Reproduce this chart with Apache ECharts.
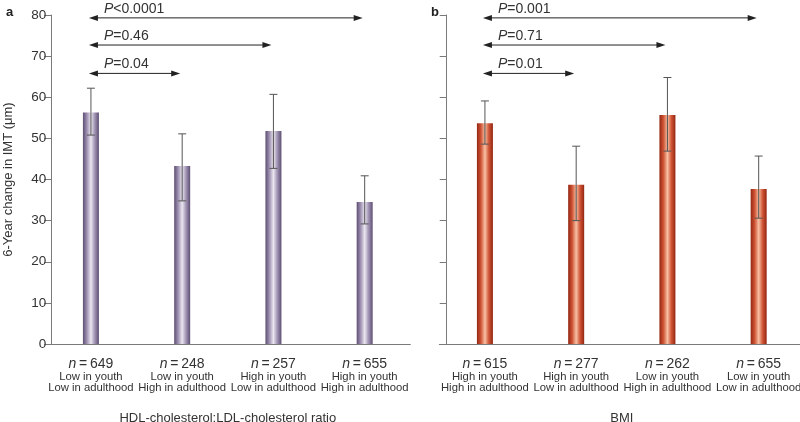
<!DOCTYPE html>
<html><head><meta charset="utf-8">
<script src="https://cdn.jsdelivr.net/npm/echarts@6/dist/echarts.min.js"></script>
<style>html,body{margin:0;padding:0;background:#fff}#c{width:800px;height:422px}</style>
</head><body><div id="c"></div>
<script>
// ---- data ----
const leftN = ['649', '248', '257', '655'];
const leftGroups = ['Low in youth\nLow in adulthood', 'Low in youth\nHigh in adulthood', 'High in youth\nLow in adulthood', 'High in youth\nHigh in adulthood'];
const leftValues = [56.3, 43.3, 51.8, 34.5];
const leftLow = [50.8, 34.8, 42.7, 29.2];
const leftHigh = [62.2, 51.1, 60.7, 40.9];
const leftTitle = 'HDL-cholesterol:LDL-cholesterol ratio';
const leftComparisons = [[0, 3, 79.3, '<0.0001'], [0, 2, 72.7, '=0.46'], [0, 1, 65.8, '=0.04']];

const rightN = ['615', '277', '262', '655'];
const rightGroups = ['High in youth\nHigh in adulthood', 'High in youth\nLow in adulthood', 'Low in youth\nHigh in adulthood', 'Low in youth\nLow in adulthood'];
const rightValues = [53.7, 38.7, 55.7, 37.7];
const rightLow = [48.6, 30.0, 46.9, 30.6];
const rightHigh = [59.1, 48.1, 64.8, 45.7];
const rightTitle = 'BMI';
const rightComparisons = [[0, 3, 79.3, '=0.001'], [0, 2, 72.7, '=0.71'], [0, 1, 65.8, '=0.01']];

const yTicks = {min: 0, max: 80, interval: 10};
const yName = '6-Year change in IMT (\u03bcm)';

// ---- build ----
const FONT = 'Liberation Sans';
const TXT = '#333';
const AX = '#7a7a7a';
const cats = (ns, gs) => ns.map((n, i) => '{i|n}{b|\u2009=\u2009' + n + '}\n' + gs[i]);

function grad(edge, mid, center) {
  return new echarts.graphic.LinearGradient(0, 0, 1, 0, [
    {offset: 0, color: edge}, {offset: 0.25, color: mid}, {offset: 0.5, color: center},
    {offset: 0.75, color: mid}, {offset: 1, color: edge}]);
}

function errSeries(idx, lows, highs) {
  return {
    type: 'custom', xAxisIndex: idx, yAxisIndex: idx, z: 5,
    data: lows.map((l, i) => [i, l, highs[i]]),
    renderItem: function (params, api) {
      const lo = api.coord([api.value(0), api.value(1)]);
      const hi = api.coord([api.value(0), api.value(2)]);
      const w = 4;
      const st = {stroke: '#555', lineWidth: 1};
      return {type: 'group', children: [
        {type: 'line', shape: {x1: lo[0], y1: lo[1], x2: hi[0], y2: hi[1]}, style: st},
        {type: 'line', shape: {x1: lo[0] - w, y1: lo[1], x2: lo[0] + w, y2: lo[1]}, style: st},
        {type: 'line', shape: {x1: hi[0] - w, y1: hi[1], x2: hi[0] + w, y2: hi[1]}, style: st}
      ]};
    }
  };
}

function arrowSeries(idx, comps) {
  return {
    type: 'custom', xAxisIndex: idx, yAxisIndex: idx, z: 6,
    data: comps.map(c => [c[0], c[1], c[2]]),
    renderItem: function (params, api) {
      const a = api.coord([api.value(0), api.value(2)]);
      const b = api.coord([api.value(1), api.value(2)]);
      const x1 = a[0] - 2, x2 = b[0] - 2, y = a[1];
      const hl = 9, hh = 3;
      const col = '#222';
      return {type: 'group', children: [
        {type: 'line', shape: {x1: x1 + 4, y1: y, x2: x2 - 4, y2: y}, style: {stroke: col, lineWidth: 1}},
        {type: 'polygon', shape: {points: [[x1, y], [x1 + hl, y - hh], [x1 + hl, y + hh]]}, style: {fill: col}},
        {type: 'polygon', shape: {points: [[x2, y], [x2 - hl, y - hh], [x2 - hl, y + hh]]}, style: {fill: col}},
        {type: 'text', x: x1 + 15, y: y - 9, style: {
          text: '{i|P}' + comps[params.dataIndex][3],
          fill: TXT, fontFamily: FONT, fontSize: 14,
          verticalAlign: 'middle', align: 'left',
          rich: {i: {fontStyle: 'italic', fontFamily: FONT, fontSize: 14, fill: TXT}}
        }}
      ]};
    }
  };
}

function xAxisDef(idx, data, title) {
  return {
    type: 'category', gridIndex: idx, data: data,
    axisLine: {lineStyle: {color: AX}}, axisTick: {alignWithLabel: true, length: 7, lineStyle: {color: AX}},
    axisLabel: {color: TXT, fontFamily: FONT, fontSize: 11.3, lineHeight: 11.5, margin: 14, interval: 0,
      rich: {
        i: {fontStyle: 'italic', fontFamily: FONT, fontSize: 14, lineHeight: 13, color: TXT},
        b: {fontFamily: FONT, fontSize: 14, lineHeight: 13, color: TXT}
      }},
    name: title, nameLocation: 'middle', nameGap: 68,
    nameTextStyle: {color: TXT, fontFamily: FONT, fontSize: 13}
  };
}

function yAxisDef(idx, off, showLabels) {
  const d = {
    type: 'value', gridIndex: idx, min: yTicks.min, max: yTicks.max, interval: yTicks.interval, offset: off,
    axisLine: {show: true, lineStyle: {color: AX}}, axisTick: {show: true, length: 7, lineStyle: {color: AX}},
    splitLine: {show: false},
    axisLabel: {show: showLabels, color: TXT, fontFamily: FONT, fontSize: 13.5, margin: 5}
  };
  if (showLabels) {
    d.name = yName; d.nameLocation = 'middle'; d.nameGap = 36;
    d.nameTextStyle = {color: TXT, fontFamily: FONT, fontSize: 13};
  }
  return d;
}

const chart = echarts.init(document.getElementById('c'), null, {renderer: 'canvas'});
chart.setOption({
  animation: false,
  backgroundColor: '#fff',
  title: [
    {text: 'a', left: 1, top: 1, textStyle: {fontFamily: FONT, fontSize: 13, fontWeight: 'bold', color: '#222'}},
    {text: 'b', left: 426, top: 1, textStyle: {fontFamily: FONT, fontSize: 13, fontWeight: 'bold', color: '#222'}}
  ],
  grid: [
    {left: 45.3, top: 15, width: 365, height: 329, containLabel: false, outerBoundsMode: 'none'},
    {left: 439.3, top: 15, width: 365, height: 329, containLabel: false, outerBoundsMode: 'none'}
  ],
  xAxis: [xAxisDef(0, cats(leftN, leftGroups), leftTitle), xAxisDef(1, cats(rightN, rightGroups), rightTitle)],
  yAxis: [yAxisDef(0, -6, true), yAxisDef(1, -7.4, false)],
  series: [
    {type: 'bar', xAxisIndex: 0, yAxisIndex: 0, data: leftValues, barWidth: 16,
      itemStyle: {color: grad('#5d4e72', '#9e91b2', '#ebe6f0')}},
    {type: 'bar', xAxisIndex: 1, yAxisIndex: 1, data: rightValues, barWidth: 16,
      itemStyle: {color: grad('#932612', '#cf5334', '#f8c0a4')}},
    errSeries(0, leftLow, leftHigh),
    errSeries(1, rightLow, rightHigh),
    arrowSeries(0, leftComparisons),
    arrowSeries(1, rightComparisons)
  ]
});
</script></body></html>
